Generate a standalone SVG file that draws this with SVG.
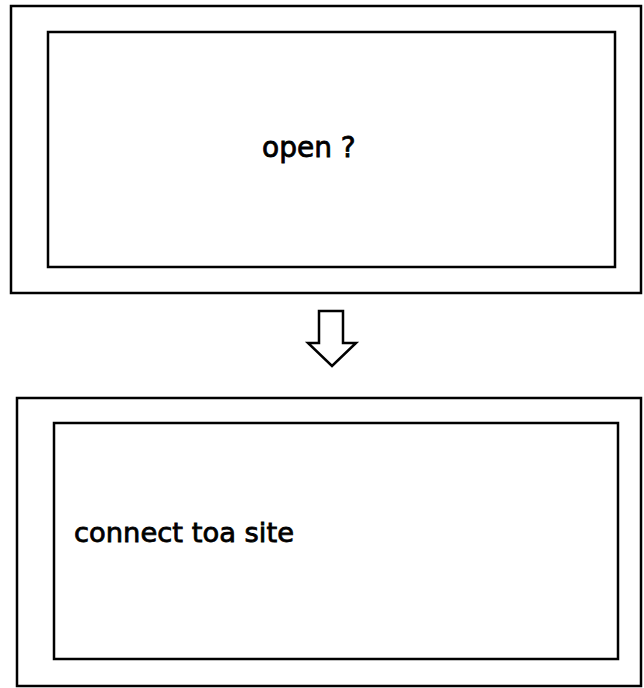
<svg xmlns="http://www.w3.org/2000/svg" width="644" height="688" viewBox="0 0 644 688">
<style>
.box{fill:none;stroke:#000;stroke-width:2.5}
.lbl{font-family:"DejaVu Sans","Liberation Sans",sans-serif;fill:#000;stroke:#000;stroke-width:0.8}
.arrow{fill:#fff;stroke:#000;stroke-width:2.5;stroke-linejoin:miter}
</style>
<rect width="644" height="688" fill="#fff"/>
<g id="node-open">
<rect class="box" x="11" y="6" width="630" height="287"/>
<rect class="box" x="48" y="32" width="567" height="235"/>
<text class="lbl" x="262" y="157" font-size="28">open ?</text>
</g>
<g id="connectors">
<polygon class="arrow" points="319,311 343,311 343,343 356,343 332,366 308,343 319,343"/>
</g>
<g id="node-connect">
<rect class="box" x="17" y="398" width="624" height="288"/>
<rect class="box" x="54" y="423" width="564" height="236"/>
<text class="lbl" x="74" y="542" font-size="27" textLength="220" lengthAdjust="spacingAndGlyphs">connect toa site</text>
</g>
</svg>
